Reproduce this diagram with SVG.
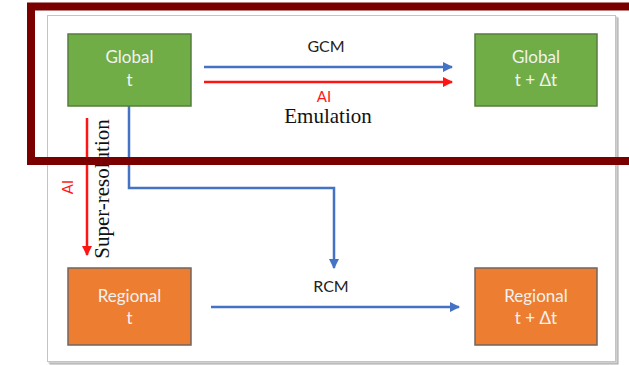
<svg xmlns="http://www.w3.org/2000/svg" width="629" height="365" viewBox="0 0 629 365">
  <defs>
    <style>
      .box-label { font-family: Lato, "Liberation Sans", sans-serif; font-size: 17px; fill: #f2f2f2; text-anchor: middle; }
      .edge-label { font-family: Lato, "Liberation Sans", sans-serif; font-size: 16px; fill: #222; text-anchor: middle; }
      .ai-label { font-family: Lato, "Liberation Sans", sans-serif; font-size: 15px; fill: #ff1a1a; text-anchor: middle; }
      .serif-label { font-family: "Liberation Serif", serif; font-size: 21px; fill: #111; text-anchor: middle; }
      .green { fill: #70AD47; stroke: #557e3e; stroke-width: 1.5; }
      .orange { fill: #ED7D31; stroke: #6f6660; stroke-width: 1.5; }
      .blue { fill: none; stroke: #4472C4; stroke-width: 2.5; }
      .red { fill: none; stroke: #ff1414; stroke-width: 2.5; }
    </style>
    <marker id="arrow-blue" viewBox="0 0 10 10" refX="9" refY="5" markerWidth="4.2" markerHeight="4.2" orient="auto" markerUnits="strokeWidth">
      <path d="M0,0 L10,5 L0,10 Z" fill="#4472C4"/>
    </marker>
    <marker id="arrow-red" viewBox="0 0 10 10" refX="9" refY="5" markerWidth="4.2" markerHeight="4.2" orient="auto" markerUnits="strokeWidth">
      <path d="M0,0 L10,5 L0,10 Z" fill="#ff1414"/>
    </marker>
  </defs>

  <rect width="629" height="365" fill="#ffffff"/>

  <!-- card with drop shadow -->
  <rect x="49.5" y="17.5" width="569" height="347" fill="#a8a8a8"/>
  <rect x="48.5" y="16.5" width="569" height="347" fill="#cfcfcf"/>
  <rect x="47.5" y="15.5" width="568" height="346" fill="#ffffff" stroke="#c4c4c4" stroke-width="1"/>

  <!-- connectors -->
  <g id="connectors">
    <line class="blue" x1="204" y1="67" x2="452" y2="67" marker-end="url(#arrow-blue)"/>
    <line class="red" x1="204" y1="82" x2="452" y2="82" marker-end="url(#arrow-red)"/>
    <polyline class="blue" points="129,106 129,188 334,188 334,268" marker-end="url(#arrow-blue)"/>
    <line class="red" x1="87" y1="118" x2="87" y2="255" marker-end="url(#arrow-red)"/>
    <line class="blue" x1="211" y1="307" x2="459" y2="307" marker-end="url(#arrow-blue)"/>

    <text class="edge-label" x="326" y="52">GCM</text>
    <text class="ai-label" x="324" y="102">AI</text>
    <text class="serif-label" x="328" y="123">Emulation</text>
    <text class="serif-label" transform="translate(109,189) rotate(-90)">Super-resolution</text>
    <text class="ai-label" font-size="12" transform="translate(73,187) rotate(-90)">AI</text>
    <text class="edge-label" x="331" y="292">RCM</text>
  </g>

  <!-- nodes -->
  <g id="global-t">
    <rect class="green" x="68" y="34" width="123" height="72"/>
    <text class="box-label" x="129.5" y="63">Global</text>
    <text class="box-label" x="129.5" y="86">t</text>
  </g>
  <g id="global-t-dt">
    <rect class="green" x="475" y="34" width="122" height="72"/>
    <text class="box-label" x="536" y="63">Global</text>
    <text class="box-label" x="536" y="86">t + Δt</text>
  </g>
  <g id="regional-t">
    <rect class="orange" x="68" y="268" width="123" height="77"/>
    <text class="box-label" x="129.5" y="302">Regional</text>
    <text class="box-label" x="129.5" y="324">t</text>
  </g>
  <g id="regional-t-dt">
    <rect class="orange" x="475" y="268" width="122" height="77"/>
    <text class="box-label" x="536" y="302">Regional</text>
    <text class="box-label" x="536" y="324">t + Δt</text>
  </g>

  <!-- highlight frame over the global row -->
  <rect x="31" y="6.5" width="620" height="154.5" fill="none" stroke="#7a0000" stroke-width="8"/>
</svg>
